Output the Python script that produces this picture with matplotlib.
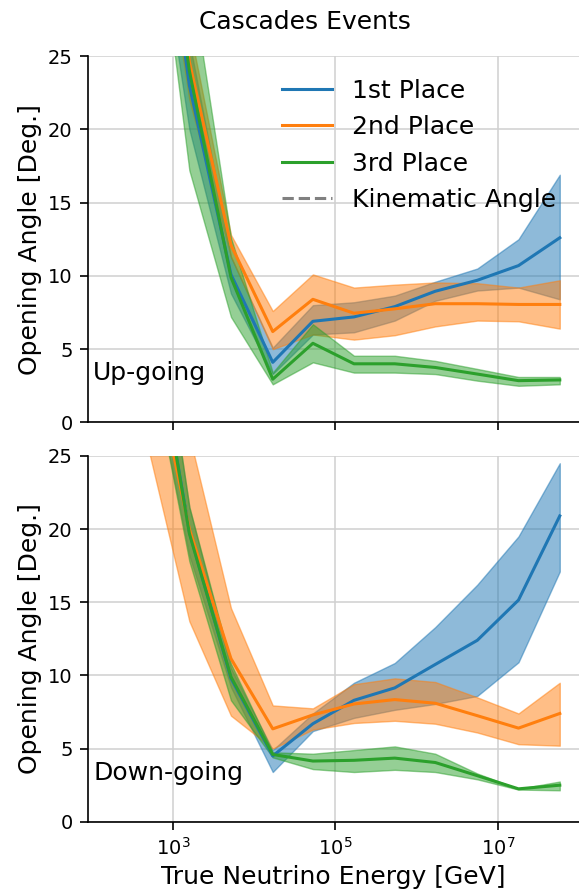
import matplotlib
matplotlib.use("Agg")
import matplotlib.pyplot as plt
from matplotlib.ticker import NullLocator
import numpy as np

# bin centres in true neutrino energy [GeV]
energy_gev = [5.1e2, 1.6e3, 5.2e3, 1.7e4, 5.3e4, 1.7e5, 5.4e5, 1.7e6, 5.6e6, 1.8e7, 5.8e7]

# up-going: median and band (lo, hi) for each place
up_first_med = [43, 23, 10.1, 4.1, 6.9, 7.2, 7.9, 8.95, 9.7, 10.7, 12.6]
up_first_lo = [38, 20, 8.8, 3.3, 6.0, 6.15, 6.95, 8.3, 9.0, 9.2, 8.4]
up_first_hi = [50, 26, 11.3, 5.1, 8.0, 8.2, 8.65, 9.6, 10.5, 12.5, 16.9]

up_second_med = [45, 24.6, 12.1, 6.2, 8.4, 7.45, 7.75, 8.1, 8.1, 8.05, 8.05]
up_second_lo = [40, 22, 11.3, 5.0, 6.0, 5.65, 5.95, 6.55, 6.95, 6.9, 6.4]
up_second_hi = [52, 27, 12.8, 7.6, 10.1, 9.2, 9.4, 9.55, 9.5, 9.2, 9.7]

up_third_med = [44, 24, 9.9, 2.95, 5.4, 4.0, 4.0, 3.75, 3.3, 2.85, 2.9]
up_third_lo = [39, 17.2, 7.2, 2.6, 4.1, 3.4, 3.4, 3.3, 2.85, 2.5, 2.6]
up_third_hi = [55, 31, 12.6, 3.4, 6.7, 4.55, 4.55, 4.2, 3.65, 3.1, 3.1]

# down-going
down_first_med = [36, 19.8, 9.8, 4.5, 6.7, 8.3, 9.15, 10.75, 12.4, 15.15, 20.9]
down_first_lo = [32, 18.2, 9.2, 3.4, 6.2, 7.1, 7.65, 8.05, 8.6, 10.9, 17.1]
down_first_hi = [40, 21.5, 10.5, 4.9, 7.4, 9.5, 10.85, 13.3, 16.2, 19.5, 24.5]

down_second_med = [33, 20, 11.15, 6.35, 7.3, 8.05, 8.35, 8.1, 7.25, 6.4, 7.4]
down_second_lo = [25.3, 13.7, 7.25, 5.0, 6.3, 6.75, 6.9, 6.7, 6.1, 5.3, 5.2]
down_second_hi = [45, 26.4, 14.6, 7.95, 7.75, 9.4, 9.8, 9.55, 8.5, 7.4, 9.5]

down_third_med = [36, 19.7, 9.9, 4.6, 4.15, 4.2, 4.35, 4.05, 3.15, 2.25, 2.5]
down_third_lo = [32, 17.8, 8.3, 4.4, 3.6, 3.4, 3.55, 3.4, 2.9, 2.2, 2.15]
down_third_hi = [40, 21.5, 10.8, 4.75, 4.65, 4.9, 5.15, 4.65, 3.3, 2.25, 2.75]

labels = ['1st Place', '2nd Place', '3rd Place']
colors = ['C0', 'C1', 'C2']

fig = plt.figure(figsize=(5.79, 8.91), dpi=100)
ax_up = fig.add_axes([0.1518, 0.5259, 0.8482, 0.4112])
ax_dn = fig.add_axes([0.1518, 0.0777, 0.8482, 0.4106], sharex=ax_up)

panels = [
    (ax_up, 'Up-going',
     [(up_first_med, up_first_lo, up_first_hi),
      (up_second_med, up_second_lo, up_second_hi),
      (up_third_med, up_third_lo, up_third_hi)]),
    (ax_dn, 'Down-going',
     [(down_first_med, down_first_lo, down_first_hi),
      (down_second_med, down_second_lo, down_second_hi),
      (down_third_med, down_third_lo, down_third_hi)]),
]

for ax, name, series in panels:
    for (med, lo, hi), c, lab in zip(series, colors, labels):
        ax.fill_between(energy_gev, lo, hi, color=c, alpha=0.5)
        ax.plot(energy_gev, med, color=c, lw=2.2, label=lab, zorder=3)
    ax.set_xscale('log')
    ax.set_xlim(10**1.955, 1e8)
    ax.set_ylim(0, 25)
    ax.set_xticks([1e3, 1e5, 1e7])
    ax.xaxis.set_minor_locator(NullLocator())
    ax.set_yticks([0, 5, 10, 15, 20, 25])
    ax.grid(True, color='#d0d0d0', lw=1.1)
    ax.set_axisbelow(True)
    ax.spines['top'].set_visible(False)
    ax.spines['right'].set_visible(False)
    ax.spines['left'].set_linewidth(1.2)
    ax.spines['bottom'].set_linewidth(1.2)
    ax.tick_params(labelsize=14, length=6, width=1.2, pad=5)
    ax.set_ylabel('Opening Angle [Deg.]', fontsize=18, labelpad=4)
    ax.text(0.011, 0.115, name, transform=ax.transAxes, fontsize=18, va='baseline')

ax_up.plot([], [], color='gray', ls='--', lw=2.2, label='Kinematic Angle')
ax_up.legend(loc='upper right', frameon=False, fontsize=18)
ax_up.tick_params(labelbottom=False)
ax_dn.set_xlabel('True Neutrino Energy [GeV]', fontsize=18)

fig.text(0.527, 0.975, 'Cascades Events', ha='center', va='center', fontsize=18)

fig.savefig('out.png', dpi=100)
